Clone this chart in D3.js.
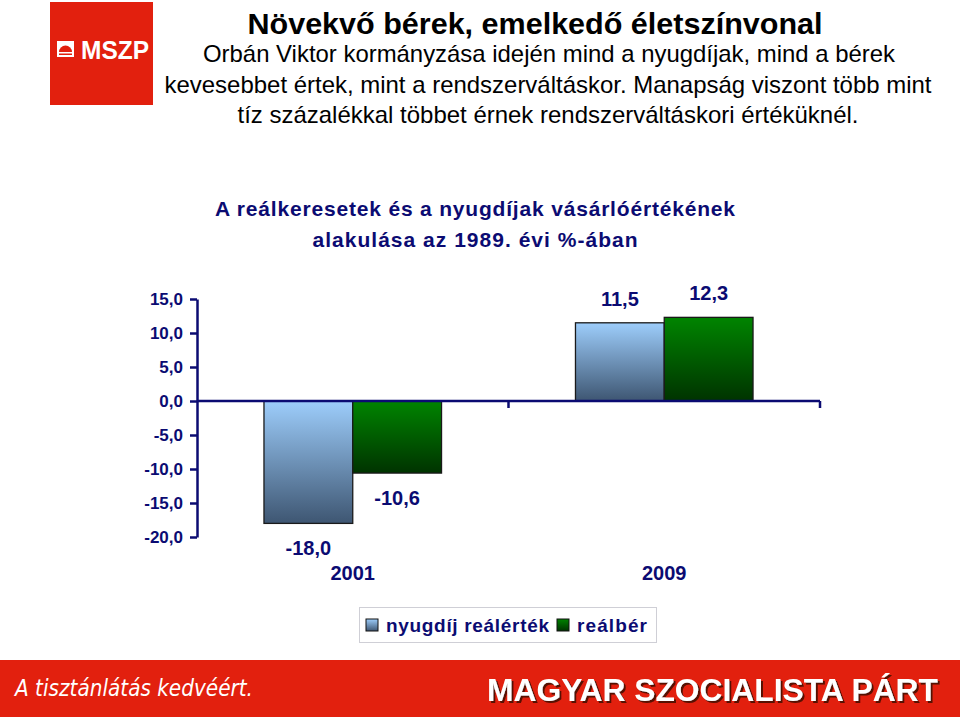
<!DOCTYPE html>
<html><head><meta charset="utf-8">
<script src="https://cdn.jsdelivr.net/npm/d3@7"></script>
<style>
html,body{margin:0;padding:0;background:#fff;}
svg{display:block;font-family:"Liberation Sans",Arial,sans-serif;}
</style></head>
<body><svg id="c" width="960" height="720"></svg>
<script>
const categories = ["2001", "2009"];
const seriesNames = ["nyugdíj reálérték", "reálbér"];
const pension = [-18.0, 11.5];
const wages = [-10.6, 12.3];
const yTicks = [15, 10, 5, 0, -5, -10, -15, -20];
const headerTitle = "Növekvő bérek, emelkedő életszínvonal";
const headerLines = [
  "Orbán Viktor kormányzása idején mind a nyugdíjak, mind a bérek",
  "kevesebbet értek, mint a rendszerváltáskor. Manapság viszont több mint",
  "tíz százalékkal többet érnek rendszerváltáskori értéküknél."
];
const chartTitle = ["A reálkeresetek és a nyugdíjak vásárlóértékének", "alakulása az 1989. évi %-ában"];

const navy = "#0b0b72";
const svg = d3.select("#c");
const defs = svg.append("defs");
function grad(id, c1, c2){
  const g = defs.append("linearGradient").attr("id", id).attr("x1",0).attr("y1",0).attr("x2",0).attr("y2",1);
  g.append("stop").attr("offset","0%").attr("stop-color",c1);
  g.append("stop").attr("offset","100%").attr("stop-color",c2);
}
grad("gBlue", "#9dcdfb", "#3e5672");
grad("gGreen", "#008400", "#003300");
const fl = defs.append("filter").attr("id","shadow").attr("filterUnits","userSpaceOnUse")
  .attr("x",470).attr("y",662).attr("width",485).attr("height",54);
fl.append("feDropShadow").attr("dx",2).attr("dy",2).attr("stdDeviation",0.6).attr("flood-color","#4a0803").attr("flood-opacity",0.9);
const fills = ["url(#gBlue)", "url(#gGreen)"];

// logo
svg.append("rect").attr("x",50).attr("y",2).attr("width",103).attr("height",103).attr("fill","#e2200e");
svg.append("rect").attr("x",57).attr("y",41).attr("width",17).attr("height",16).attr("fill","#fff");
svg.append("path").attr("d","M59,52 A6.5,6.5 0 0 1 72,52 Z").attr("fill","#e2200e");
svg.append("rect").attr("x",59).attr("y",53.5).attr("width",13).attr("height",1.5).attr("fill","#e2200e");
svg.append("text").attr("x",115).attr("y",59).attr("text-anchor","middle")
  .attr("font-size",26).attr("font-weight","bold").attr("fill","#fff")
  .attr("textLength",68).attr("lengthAdjust","spacingAndGlyphs").text("MSZP");

// header
svg.append("text").attr("x",535).attr("y",34).attr("text-anchor","middle")
  .attr("font-size",30).attr("font-weight","bold").attr("fill","#000")
  .attr("textLength",575).attr("lengthAdjust","spacingAndGlyphs").text(headerTitle);
const hl = [[549,62,692],[548,93,767],[548,123,621]];
headerLines.forEach((t,i)=>{
  svg.append("text").attr("x",hl[i][0]).attr("y",hl[i][1]).attr("text-anchor","middle")
    .attr("font-size",24).attr("fill","#000")
    .attr("textLength",hl[i][2]).attr("lengthAdjust","spacingAndGlyphs").text(t);
});

// chart title
const ctLen = [520, 325];
chartTitle.forEach((t,i)=>{
  svg.append("text").attr("x",475).attr("y",216+i*31).attr("text-anchor","middle")
    .attr("font-size",21).attr("font-weight","bold").attr("fill",navy)
    .attr("textLength",ctLen[i]).attr("lengthAdjust","spacing").text(t);
});

// scales
const x0 = d3.scaleBand().domain(categories).range([197, 820]).padding(0);
const bw = x0.bandwidth();
const x1 = d3.scaleBand().domain(seriesNames).range([bw*0.215, bw*0.785]).padding(0);
const y = d3.scaleLinear().domain([-20, 15]).range([537, 299]);
const fmt = v => d3.format(".1f")(v).replace(".", ",").replace("−","-");

// y axis
const yAxis = svg.append("g").attr("transform","translate(197,0)")
  .call(d3.axisLeft(y).tickValues(yTicks).tickSize(7).tickSizeOuter(0).tickPadding(7).tickFormat(fmt));
yAxis.select(".domain").attr("stroke",navy).attr("stroke-width",2.5);
yAxis.selectAll(".tick line").attr("stroke",navy).attr("stroke-width",2.5);
yAxis.selectAll(".tick text").attr("fill",navy).attr("font-size",17).attr("font-weight","bold")
  .attr("font-family","Liberation Sans, Arial, sans-serif");

// bars
const data = categories.map((c,i)=>({cat:c, vals:[pension[i], wages[i]]}));
const grp = svg.append("g");
data.forEach(d=>{
  d.vals.forEach((v,j)=>{
    const xs = x0(d.cat) + x1(seriesNames[j]);
    grp.append("rect").attr("x",xs).attr("width",x1.bandwidth())
      .attr("y", y(Math.max(0,v))).attr("height", Math.abs(y(v)-y(0)))
      .attr("fill",fills[j]).attr("stroke","#1a1a1a").attr("stroke-width",1.3);
    grp.append("text").attr("x", xs + x1.bandwidth()/2)
      .attr("y", v >= 0 ? y(v) - 17 : y(v) + 32)
      .attr("text-anchor","middle").attr("font-size",20).attr("font-weight","bold")
      .attr("fill",navy).text(fmt(v));
  });
});

// x axis at zero
const xAxis = svg.append("g").attr("transform",`translate(0,${y(0)})`);
xAxis.append("line").attr("x1",197).attr("x2",820).attr("stroke",navy).attr("stroke-width",2.5);
[x0("2009"), 820].forEach(px=>{
  xAxis.append("line").attr("x1",px).attr("x2",px).attr("y1",0).attr("y2",7).attr("stroke",navy).attr("stroke-width",2.5);
});
categories.forEach(c=>{
  svg.append("text").attr("x", x0(c)+bw/2).attr("y",580).attr("text-anchor","middle")
    .attr("font-size",20).attr("font-weight","bold").attr("fill",navy).text(c);
});

// legend
const lg = svg.append("g");
lg.append("rect").attr("x",359.5).attr("y",607.5).attr("width",297).attr("height",35)
  .attr("fill","#fff").attr("stroke","#cfcfd6").attr("stroke-width",1);
const lx = [366, 557];
const lLen = [163, 70];
seriesNames.forEach((s,i)=>{
  lg.append("rect").attr("x",lx[i]).attr("y",619).attr("width",12).attr("height",12)
    .attr("fill",fills[i]).attr("stroke","#111").attr("stroke-width",1);
  lg.append("text").attr("x",lx[i]+20).attr("y",632).attr("font-size",19).attr("font-weight","bold")
    .attr("fill",navy).attr("textLength",lLen[i]).attr("lengthAdjust","spacing").text(s);
});

// bottom banner
svg.append("rect").attr("x",0).attr("y",660).attr("width",960).attr("height",57).attr("fill","#e2200e");
svg.append("text").attr("x",15).attr("y",696).attr("font-size",23).attr("font-style","italic")
  .attr("font-family","DejaVu Sans, sans-serif").attr("fill","#fff")
  .attr("textLength",238).attr("lengthAdjust","spacingAndGlyphs").text("A tisztánlátás kedvéért.");
svg.append("text").attr("x",487).attr("y",701).attr("font-size",32).attr("font-weight","bold")
  .attr("fill","#fff").attr("filter","url(#shadow)")
  .attr("textLength",451).attr("lengthAdjust","spacingAndGlyphs").text("MAGYAR SZOCIALISTA PÁRT");
</script></body></html>
